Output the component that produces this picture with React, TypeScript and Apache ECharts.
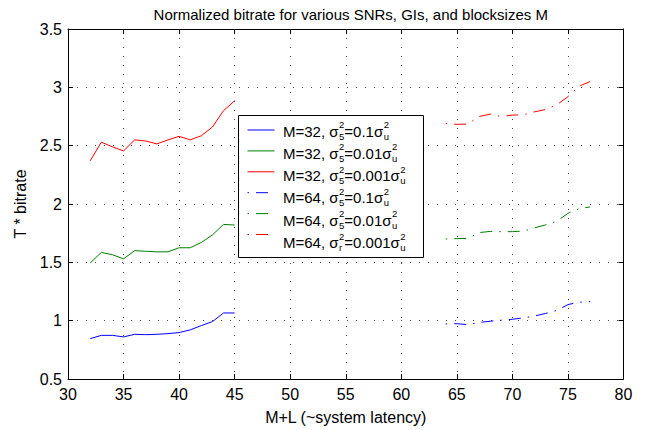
import React, { useEffect, useRef } from "react";
import * as echarts from "echarts";

// ---------- data ----------
const xM32 = [32, 33, 34, 35, 36, 37, 38, 39, 40, 41, 42, 43, 44, 45];
const xM64 = [64, 65, 66, 67, 68, 69, 70, 71, 72, 73, 74, 75, 76, 77];

const blue32 = [0.846, 0.874, 0.874, 0.861, 0.883, 0.88, 0.883, 0.889, 0.898, 0.921, 0.958, 0.992, 1.066, 1.066];
const green32 = [1.495, 1.585, 1.565, 1.53, 1.6, 1.595, 1.59, 1.59, 1.625, 1.625, 1.67, 1.735, 1.825, 1.82];
const red32 = [2.37, 2.53, 2.49, 2.455, 2.55, 2.54, 2.515, 2.55, 2.58, 2.55, 2.585, 2.66, 2.8, 2.885];

const blue64 = [0.972, 0.974, 0.966, 0.985, 0.995, 1.004, 1.012, 1.024, 1.04, 1.062, 1.088, 1.138, 1.158, 1.163];
const green64 = [1.7, 1.703, 1.705, 1.755, 1.765, 1.763, 1.763, 1.768, 1.795, 1.822, 1.852, 1.92, 1.96, 1.975];
const red64 = [2.69, 2.683, 2.685, 2.75, 2.77, 2.75, 2.762, 2.765, 2.79, 2.81, 2.85, 2.92, 3.01, 3.05];

const legendM = ["32", "32", "32", "64", "64", "64"];
const legendSubA = ["5", "5", "5", "5", "5", "r"];
const legendRatio = ["0.1", "0.01", "0.001", "0.1", "0.01", "0.001"];

const titleText = "Normalized bitrate for various SNRs, GIs, and blocksizes M";
const xName = "M+L (~system latency)";
const yName = "T * bitrate";

// ---------- styles ----------
const FONT = "'Liberation Sans', Arial, Helvetica, sans-serif";
const BLUE = "#0000ff";
const GREEN = "#008000";
const RED = "#ff0000";
const DASHDOT = [12, 7, 1.5, 7];
const DASH_OFFSET = 19;

const ROW_Y0 = 130;
const ROW_STEP = 22.3;

function measure(text: string, size: number): number {
  const c = document.createElement("canvas").getContext("2d");
  if (!c) return text.length * size * 0.55;
  c.font = `${size}px 'Liberation Sans', Arial, sans-serif`;
  return c.measureText(text).width;
}

function seriesName(i: number) {
  return `M=${legendM[i]}, σ^2_${legendSubA[i]}=${legendRatio[i]}σ^2_u`;
}

function buildLegendTexts(): any[] {
  const els: any[] = [];
  els.push({
    type: "rect",
    z: 1,
    zlevel: 0,
    shape: { x: 238.5, y: 115.5, width: 185, height: 142 },
    style: { fill: "#fff", stroke: "#000", lineWidth: 1 },
  });
  const FS = 15, SFS = 9.5;
  for (let i = 0; i < 6; i++) {
    const ry = ROW_Y0 + i * ROW_STEP;
    const p1 = `M=${legendM[i]}, σ`;
    const p2 = `=${legendRatio[i]}σ`;
    const w1 = measure(p1, FS);
    const ws = measure("2", SFS);
    const w2 = measure(p2, FS);
    let x = 283;
    const baseStyle = { fontSize: FS, fontFamily: FONT, fill: "#000", align: "left", verticalAlign: "middle" };
    const supStyle = { fontSize: SFS, fontFamily: FONT, fill: "#000", align: "left", verticalAlign: "middle" };
    els.push({ type: "text", z: 3, x, y: ry + 1, style: { ...baseStyle, text: p1 } });
    x += w1 + 0.5;
    els.push({ type: "text", z: 3, x, y: ry - 5.5, style: { ...supStyle, text: "2" } });
    els.push({ type: "text", z: 3, x, y: ry + 6, style: { ...supStyle, text: legendSubA[i] } });
    x += ws;
    els.push({ type: "text", z: 3, x, y: ry + 1, style: { ...baseStyle, text: p2 } });
    x += w2 + 0.5;
    els.push({ type: "text", z: 3, x, y: ry - 5.5, style: { ...supStyle, text: "2" } });
    els.push({ type: "text", z: 3, x, y: ry + 6, style: { ...supStyle, text: "u" } });
  }
  return els;
}

function pairs(xs: number[], ys: number[]) {
  return xs.map((x, i) => [x, ys[i]]);
}

export default function App() {
  const ref = useRef<HTMLDivElement>(null);
  useEffect(() => {
    if (!ref.current) return;
    const chart = echarts.init(ref.current, null, { renderer: "svg" });
    const axisCommon = {
      type: "value",
      axisLine: { show: true, onZero: false, lineStyle: { color: "#000", width: 1 } },
      axisTick: { show: true, inside: true, length: 5, lineStyle: { color: "#000" } },
    };
    const mk = (i: number, color: string, xs: number[], ys: number[], dashed: boolean) => ({
      name: seriesName(i),
      type: "line",
      data: pairs(xs, ys),
      symbol: "none",
      lineStyle: dashed
        ? { color, width: 1, type: DASHDOT, dashOffset: DASH_OFFSET }
        : { color, width: 1, type: "solid" },
      itemStyle: { color },
      xAxisIndex: 0,
      yAxisIndex: 0,
      z: 2,
    });
    chart.setOption({
      animation: false,
      backgroundColor: "#fff",
      textStyle: { fontFamily: FONT },
      title: {
        text: titleText,
        left: 345.75,
        textAlign: "center",
        top: 2,
        textStyle: { fontSize: 15, fontWeight: "normal", color: "#000", fontFamily: FONT },
      },
      legend: {
        show: true,
        orient: "vertical",
        left: 247,
        top: ROW_Y0 - 7,
        padding: 0,
        itemWidth: 27,
        itemHeight: 14,
        itemGap: ROW_STEP - 14,
        selectedMode: false,
        formatter: () => "",
        textStyle: { fontSize: 1, padding: 0 },
        itemStyle: { opacity: 0, borderWidth: 0 },
        lineStyle: { width: 1 },
        z: 10,
        data: [0, 1, 2, 3, 4, 5].map((i) => ({ name: seriesName(i) })),
      },
      grid: { left: 68, right: 28.5, top: 29, bottom: 51, containLabel: false, outerBoundsMode: "none" },
      xAxis: [
        {
          ...axisCommon,
          position: "bottom",
          min: 30,
          max: 80,
          interval: 5,
          name: xName,
          nameLocation: "middle",
          nameGap: 30,
          nameTextStyle: { fontSize: 16, color: "#000", fontFamily: FONT },
          axisLabel: { show: true, fontSize: 16, color: "#000", margin: 7, fontFamily: FONT },
          splitLine: { show: true, lineStyle: { color: "#444", width: 1, type: [1, 8] } },
        },
        {
          ...axisCommon,
          position: "top",
          min: 30,
          max: 80,
          interval: 5,
          axisLabel: { show: false },
          splitLine: { show: false },
        },
      ],
      yAxis: [
        {
          ...axisCommon,
          position: "left",
          min: 0.5,
          max: 3.5,
          interval: 0.5,
          name: yName,
          nameLocation: "middle",
          nameGap: 40,
          nameRotate: 90,
          nameTextStyle: { fontSize: 16, color: "#000", fontFamily: FONT },
          axisLabel: { show: true, fontSize: 16, color: "#000", margin: 6, fontFamily: FONT },
          splitLine: { show: true, lineStyle: { color: "#444", width: 1, type: [1, 8] } },
        },
        {
          ...axisCommon,
          position: "right",
          min: 0.5,
          max: 3.5,
          interval: 0.5,
          axisLabel: { show: false },
          splitLine: { show: false },
        },
      ],
      series: [
        mk(0, BLUE, xM32, blue32, false),
        mk(1, GREEN, xM32, green32, false),
        mk(2, RED, xM32, red32, false),
        mk(3, BLUE, xM64, blue64, true),
        mk(4, GREEN, xM64, green64, true),
        mk(5, RED, xM64, red64, true),
      ],
      graphic: { elements: buildLegendTexts() },
    });
    return () => chart.dispose();
  }, []);
  return <div ref={ref} style={{ width: 652, height: 430, position: "absolute", left: 0, top: 0 }} />;
}
